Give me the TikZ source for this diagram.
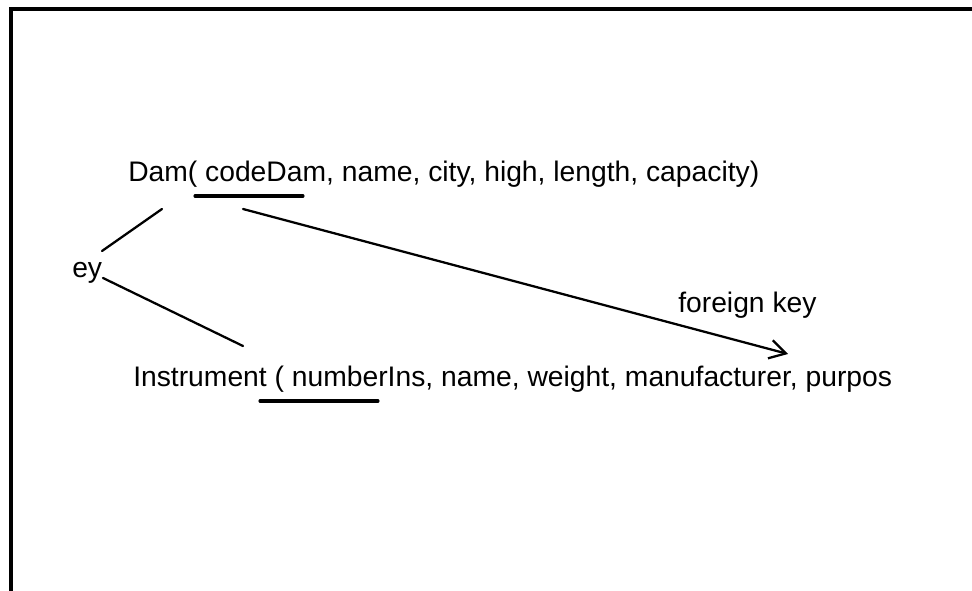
\documentclass[tikz,border=0pt]{standalone}
\usepackage{fontspec}
\setmainfont{Liberation Sans}
\usetikzlibrary{arrows.meta}
\begin{document}
\begin{tikzpicture}[x=0.75pt,y=-0.75pt,
  lbl/.style={anchor=base west,inner sep=0pt,font=\fontsize{21.2pt}{25pt}\selectfont},
  conn/.style={line width=1.7pt,line cap=round},
  keyline/.style={line width=2.3pt,line cap=round},
  frame/.style={line width=2.4pt}]
\useasboundingbox (0,0) rectangle (972,591);
% frame
\coordinate (ftl) at (11,9);
\coordinate (ftr) at (975,9);
\coordinate (fbl) at (11,595);
\draw[frame] (fbl) -- (ftl) -- (ftr);
% texts
\node[lbl] (dam) at (128,182) {Dam( codeDam, name, city, high, length, capacity)};
\node[lbl] (inst) at (133,387) {Instrument ( numberIns, name, weight, manufacturer, purpos};
\node[lbl] (ey) at (72,278) {ey};
\node[lbl] (fk) at (678,313) {foreign key};
% underlines
\coordinate (u1a) at (195,196);
\coordinate (u1b) at (303,196);
\coordinate (u2a) at (260,401);
\coordinate (u2b) at (378,401);
\draw[keyline] (u1a) -- (u1b);
\draw[keyline] (u2a) -- (u2b);
% connectors
\coordinate (d1) at (162,209);
\coordinate (e1) at (102,251);
\coordinate (e2) at (103,278);
\coordinate (i1) at (243,346);
\coordinate (d2) at (243,209);
\coordinate (tip) at (788,354);
\draw[conn] (d1) -- (e1);
\draw[conn] (e2) -- (i1);
\draw[conn,-{Straight Barb[length=12pt,width=14pt,line width=1.7pt]}] (d2) -- (tip);
\end{tikzpicture}
\end{document}
